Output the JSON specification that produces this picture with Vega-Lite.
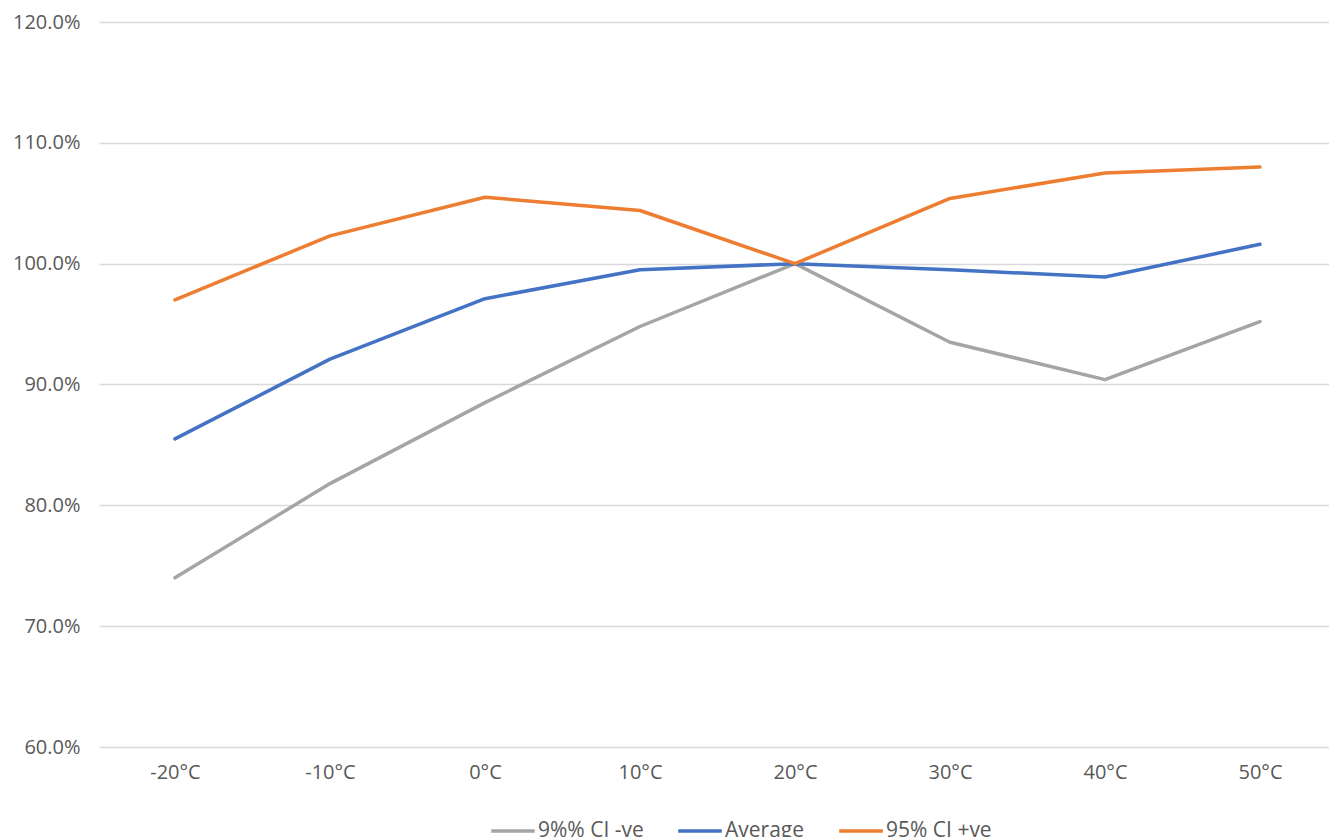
{
  "$schema": "https://vega.github.io/schema/vega-lite/v6.json",
  "autosize": "none",
  "padding": {"left": 99, "top": 22, "right": 0, "bottom": 90},
  "width": 1230,
  "height": 725,
  "background": "white",
  "config": {
    "view": {"stroke": null},
    "font": "Open Sans",
    "axis": {"labelFont": "Open Sans", "labelFontSize": 20, "labelColor": "#595959"}
  },
  "data": {
    "values": [
      {"temp": "-20°C", "series": "9%% CI -ve", "value": 0.740},
      {"temp": "-10°C", "series": "9%% CI -ve", "value": 0.818},
      {"temp": "0°C", "series": "9%% CI -ve", "value": 0.885},
      {"temp": "10°C", "series": "9%% CI -ve", "value": 0.948},
      {"temp": "20°C", "series": "9%% CI -ve", "value": 1.000},
      {"temp": "30°C", "series": "9%% CI -ve", "value": 0.935},
      {"temp": "40°C", "series": "9%% CI -ve", "value": 0.904},
      {"temp": "50°C", "series": "9%% CI -ve", "value": 0.952},
      {"temp": "-20°C", "series": "Average", "value": 0.855},
      {"temp": "-10°C", "series": "Average", "value": 0.921},
      {"temp": "0°C", "series": "Average", "value": 0.971},
      {"temp": "10°C", "series": "Average", "value": 0.995},
      {"temp": "20°C", "series": "Average", "value": 1.000},
      {"temp": "30°C", "series": "Average", "value": 0.995},
      {"temp": "40°C", "series": "Average", "value": 0.989},
      {"temp": "50°C", "series": "Average", "value": 1.016},
      {"temp": "-20°C", "series": "95% CI +ve", "value": 0.970},
      {"temp": "-10°C", "series": "95% CI +ve", "value": 1.023},
      {"temp": "0°C", "series": "95% CI +ve", "value": 1.055},
      {"temp": "10°C", "series": "95% CI +ve", "value": 1.044},
      {"temp": "20°C", "series": "95% CI +ve", "value": 1.000},
      {"temp": "30°C", "series": "95% CI +ve", "value": 1.054},
      {"temp": "40°C", "series": "95% CI +ve", "value": 1.075},
      {"temp": "50°C", "series": "95% CI +ve", "value": 1.080}
    ]
  },
  "mark": {"type": "line", "strokeWidth": 3.5, "strokeCap": "round", "strokeJoin": "round"},
  "encoding": {
    "x": {
      "field": "temp",
      "type": "ordinal",
      "sort": ["-20°C", "-10°C", "0°C", "10°C", "20°C", "30°C", "40°C", "50°C"],
      "scale": {"type": "point", "padding": 0.4677, "align": 0.524},
      "axis": {"title": null, "labelAngle": 0, "ticks": false, "domain": false, "grid": false, "labelPadding": 15}
    },
    "y": {
      "field": "value",
      "type": "quantitative",
      "scale": {"domain": [0.6, 1.2], "nice": false, "zero": false},
      "axis": {"title": null, "format": ".1%", "values": [0.6, 0.7, 0.8, 0.9, 1.0, 1.1, 1.2], "labelOverlap": false, "ticks": false, "domain": false, "grid": true, "gridColor": "#d9d9d9", "gridWidth": 1.5, "labelPadding": 19}
    },
    "color": {
      "field": "series",
      "type": "nominal",
      "scale": {"domain": ["9%% CI -ve", "Average", "95% CI +ve"], "range": ["#A5A5A5", "#4472C4", "#ED7D31"]},
      "legend": {
        "title": null,
        "orient": "none",
        "direction": "horizontal",
        "legendX": 390,
        "legendY": 785,
        "symbolType": "stroke",
        "symbolSize": 1900,
        "symbolStrokeWidth": 3.5,
        "labelFontSize": 21,
        "labelColor": "#595959",
        "labelFont": "Open Sans",
        "columnPadding": 27,
        "labelOffset": 1
      }
    }
  }
}
